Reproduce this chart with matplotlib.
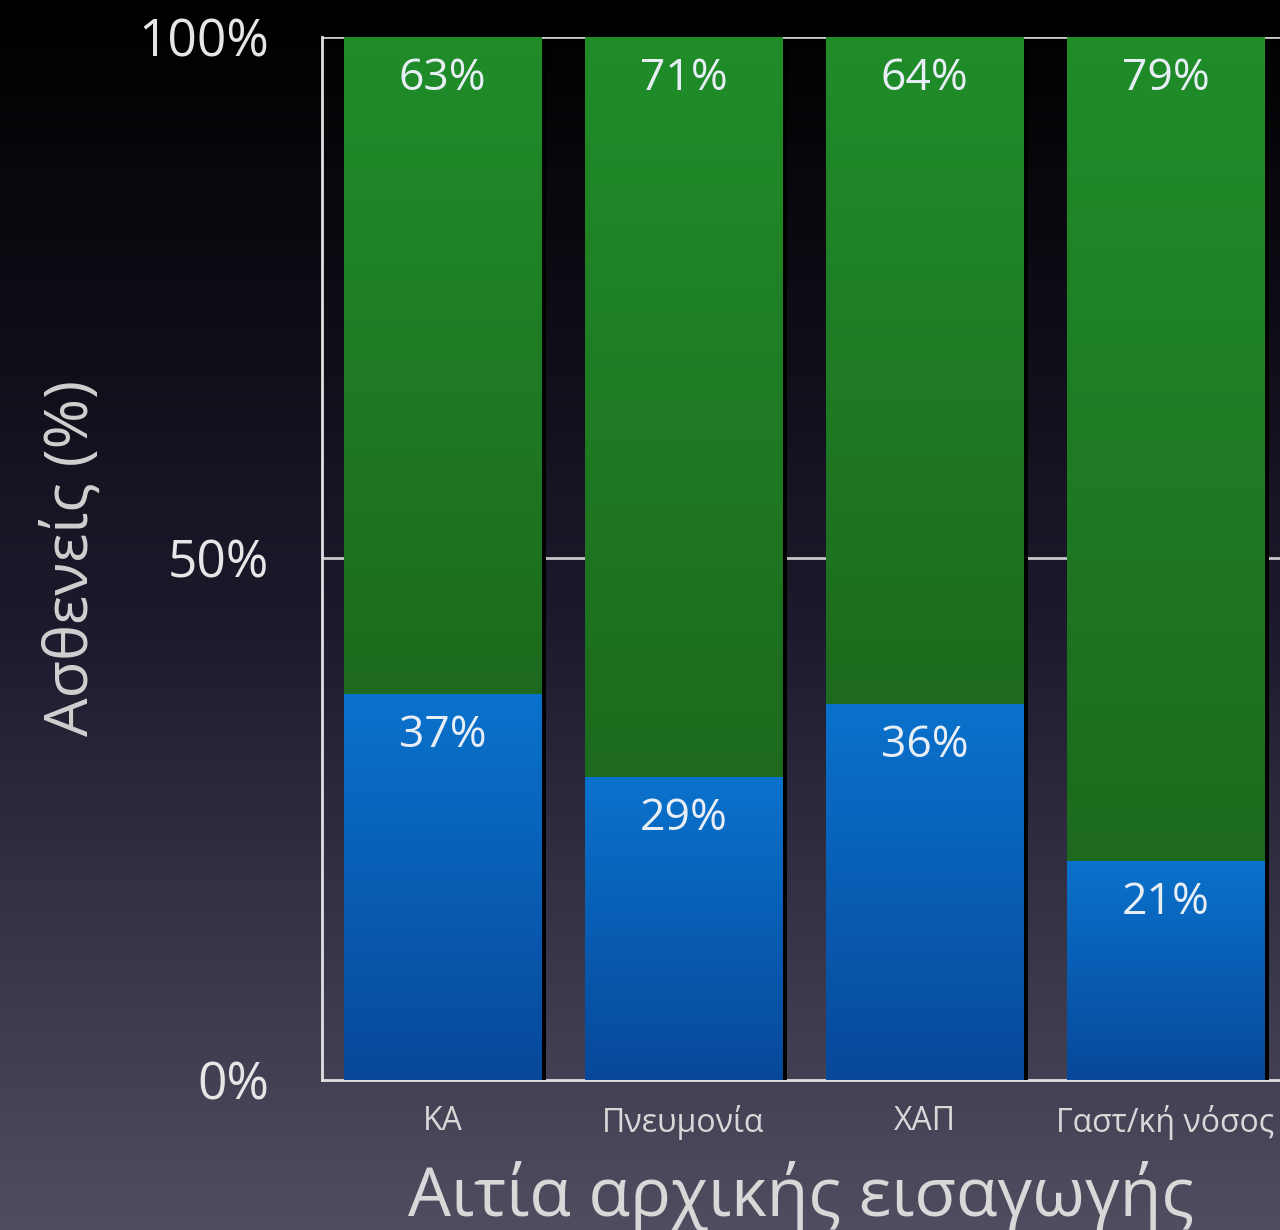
import numpy as np
import matplotlib.pyplot as plt
from matplotlib.colors import LinearSegmentedColormap
import matplotlib.patheffects as pe

plt.rcParams['font.family'] = ['Open Sans', 'DejaVu Sans']

categories = ['ΚΑ', 'Πνευμονία', 'ΧΑΠ', 'Γαστ/κή νόσος']
blue_vals = [37, 29, 36, 21]
green_vals = [63, 71, 64, 79]
yticks = [0, 50, 100]
ytick_labels = ['0%', '50%', '100%']

fig = plt.figure(figsize=(12.8, 12.3), dpi=100)

# background gradient
bg = fig.add_axes([0, 0, 1, 1], zorder=-10)
bg_cmap = LinearSegmentedColormap.from_list('bg', ['#000000', '#1a1a2c', '#4e4e60'])
bg.imshow(np.linspace(0, 1, 256).reshape(-1, 1), aspect='auto', cmap=bg_cmap,
          extent=[0, 1, 0, 1], origin='upper')
bg.set_axis_off()

ax = fig.add_axes([0.2516, 0.122, 0.7484, 0.848])
ax.patch.set_alpha(0)

x = np.arange(len(categories))
width = 0.82

blue_cmap = LinearSegmentedColormap.from_list('b', ['#07489a', '#0a72cc'])
green_cmap = LinearSegmentedColormap.from_list('g', ['#1d6a1e', '#208d29'])

shadow = [pe.SimplePatchShadow(offset=(3, -3), shadow_rgbFace='black', alpha=1.0), pe.Normal()]

blue_bars = ax.bar(x, blue_vals, width, color='#0a62b8', zorder=3, path_effects=shadow)
green_bars = ax.bar(x, green_vals, width, bottom=blue_vals, color='#1f7d24', zorder=3,
                    path_effects=shadow)

grad = np.linspace(0, 1, 256).reshape(-1, 1)
for bars, cmap in [(blue_bars, blue_cmap), (green_bars, green_cmap)]:
    for b in bars:
        x0, y0 = b.get_x(), b.get_y()
        w, h = b.get_width(), b.get_height()
        im = ax.imshow(grad, aspect='auto', cmap=cmap, origin='lower',
                       extent=[x0, x0 + w, y0, y0 + h], zorder=4)
        im.set_clip_path(b)

for i in range(len(categories)):
    ax.text(x[i], blue_vals[i] - 4, f'{blue_vals[i]}%', ha='center', va='center',
            color='#e8eef5', fontsize=32, zorder=5)
    ax.text(x[i], 100 - 4, f'{green_vals[i]}%', ha='center', va='center',
            color='#e8eef5', fontsize=32, zorder=5)

ax.set_xlim(-0.5, 3.475)
ax.set_ylim(0, 100)
ax.set_yticks(yticks)
ax.set_yticklabels(ytick_labels, fontsize=37, color='#e6e6e6')
ax.set_xticks(x)
ax.set_xticklabels(categories, fontsize=23, color='#d8d8d8')
ax.tick_params(axis='y', length=0, pad=38)
ax.tick_params(axis='x', length=0, pad=18)

for yv in [50, 100]:
    ax.axhline(yv, color='#c8c8c8', linewidth=2, zorder=1)

for s in ['top', 'right']:
    ax.spines[s].set_visible(False)
for s in ['left', 'bottom']:
    ax.spines[s].set_color('#e0e0e0')
    ax.spines[s].set_linewidth(2)
    ax.spines[s].set_zorder(2)

ax.set_ylabel('Ασθενείς (%)', fontsize=44, color='#d0d0d0', va='center')
ax.yaxis.set_label_coords(-0.262, 0.5)
ax.set_xlabel('Αιτία αρχικής εισαγωγής', fontsize=49, color='#d8d8d8', va='center')
ax.xaxis.set_label_coords(0.5, -0.112)

fig.savefig('out.png', dpi=100)
